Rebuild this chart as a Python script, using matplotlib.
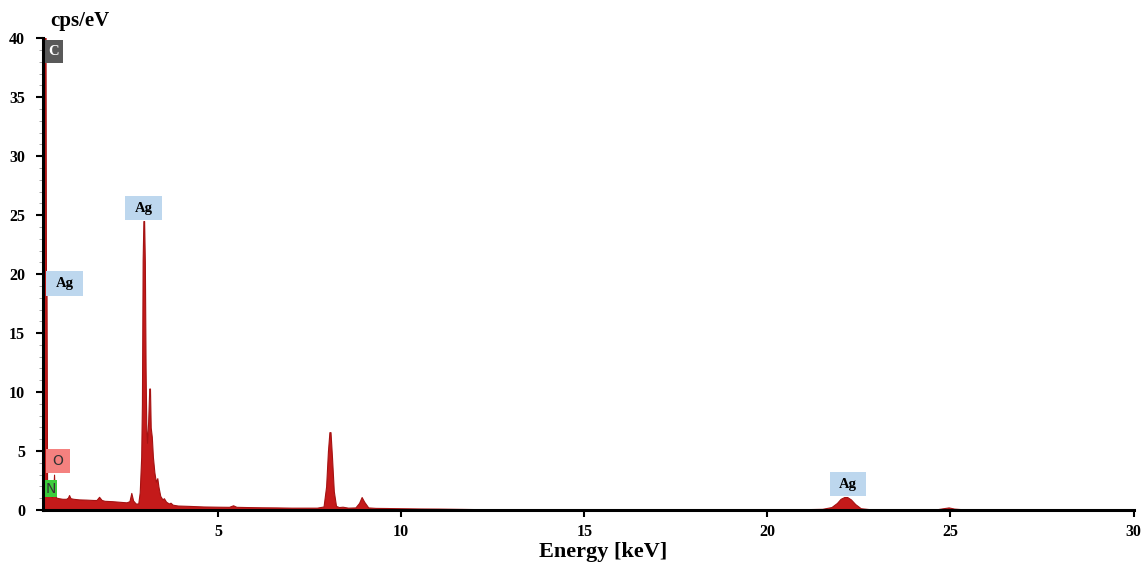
import numpy as np
import matplotlib
matplotlib.use("Agg")
import matplotlib.pyplot as plt
from matplotlib.patches import Rectangle

plt.rcParams['font.family'] = ['Liberation Serif', 'DejaVu Serif']

# EDS spectrum (energy in keV, counts in cps/eV)
energy_kev = [
    0.22, 0.285, 0.30, 0.315, 0.33, 0.36, 0.39, 0.42, 0.47, 0.50, 0.52, 0.54, 0.58,
    0.65, 0.75, 0.85, 0.90, 0.93, 0.97, 1.05, 1.2, 1.4, 1.6, 1.68, 1.75, 1.82,
    1.9, 2.1, 2.3, 2.5, 2.58, 2.63, 2.68, 2.75, 2.82, 2.86, 2.90, 2.92, 2.94,
    2.96, 2.98, 3.00, 3.02, 3.04, 3.06, 3.09, 3.12, 3.14, 3.16, 3.19, 3.22,
    3.26, 3.30, 3.34, 3.37, 3.42, 3.48, 3.52, 3.58, 3.66, 3.70, 3.76, 3.9,
    4.2, 4.6, 5.0, 5.3, 5.41, 5.5, 5.8, 6.2, 6.6, 7.0, 7.4, 7.7, 7.88, 7.95,
    8.0, 8.04, 8.07, 8.11, 8.16, 8.22, 8.3, 8.4, 8.55, 8.75, 8.85, 8.92, 8.99,
    9.1, 9.3, 9.6, 10, 10.5, 11, 11.5, 12, 13, 14, 15, 16, 17, 18, 19, 20,
    21, 21.5, 21.75, 21.9, 22.0, 22.1, 22.18, 22.28, 22.4, 22.55, 22.8, 23.2,
    24, 24.6, 24.8, 24.95, 25.1, 25.4, 26, 27, 28, 29, 30,
]
counts_cps = [
    45, 45, 18.6, 18.6, 1.8, 1.3, 1.4, 1.2, 1.1, 1.6, 3.0, 1.3, 1.05,
    1.0, 0.95, 0.95, 1.05, 1.27, 1.0, 0.95, 0.9, 0.88, 0.85, 0.85, 1.12, 0.85,
    0.78, 0.75, 0.7, 0.65, 0.75, 1.45, 0.8, 0.55, 0.55, 1.5, 4.5, 9.0, 21.2,
    24.5, 24.5, 21.0, 12, 6.8, 5.7, 7.5, 10.3, 10.3, 7.0, 6.2, 4.5,
    3.2, 2.4, 2.7, 2.0, 1.2, 0.9, 1.0, 0.7, 0.55, 0.62, 0.45, 0.38,
    0.35, 0.3, 0.28, 0.27, 0.4, 0.27, 0.25, 0.23, 0.22, 0.2, 0.2, 0.2, 0.3, 2.0,
    5.0, 6.6, 6.6, 4.5, 1.6, 0.35, 0.25, 0.28, 0.2, 0.22, 0.6, 1.1, 0.7,
    0.22, 0.18, 0.17, 0.15, 0.13, 0.12, 0.1, 0.08, 0.06, 0.05, 0.05, 0.05, 0.05, 0.06, 0.07, 0.07,
    0.07, 0.1, 0.25, 0.6, 0.95, 1.1, 1.1, 0.9, 0.5, 0.15, 0.07, 0.05,
    0.04, 0.05, 0.15, 0.22, 0.12, 0.05, 0.03, 0.02, 0.01, 0.0, 0.0,
]

# peak labels: text, energy of box centre, height of box centre, face, text colour, bold
label_text = ['C', 'Ag', 'Ag', 'O', 'N', 'Ag']
label_x = [0.51, 0.81, 2.97, 0.63, 0.43, 22.19]
label_y = [38.9, 19.2, 25.6, 4.15, 1.8, 2.2]
label_w = [0.52, 1.01, 1.01, 0.65, 0.35, 0.98]
label_h = [1.95, 2.1, 2.05, 2.0, 1.45, 2.0]
label_face = ['#595959', '#bdd7ee', '#bdd7ee', '#f4817f', '#3ccc3c', '#bdd7ee']
label_color = ['white', 'black', 'black', '#333333', '#333333', 'black']
label_bold = [True, True, True, False, False, True]

fig = plt.figure(figsize=(11.45, 5.62), dpi=100)
ax = fig.add_axes([0.0376, 0.0925, 0.9524, 0.8395])

ax.fill_between(energy_kev, counts_cps, 0, color='#c41a1a', lw=0.8,
                edgecolor='#a51212', zorder=2)

for t, x, y, w, h, fc, tc, b in zip(label_text, label_x, label_y, label_w,
                                    label_h, label_face, label_color, label_bold):
    ax.add_patch(Rectangle((x - w / 2, y - h / 2), w, h, facecolor=fc,
                           edgecolor='none', zorder=3, clip_on=False))
    if b:
        ax.text(x, y, t, ha='center', va='center', color=tc, fontsize=10.5,
                fontweight='bold', zorder=4)
    else:
        ax.text(x, y, t, ha='center', va='center', color=tc, fontsize=10,
                family='DejaVu Sans', zorder=4)

ax.set_xlim(0.22, 30)
ax.set_ylim(0, 40)
ax.set_xticks([5, 10, 15, 20, 25, 30])
ax.set_yticks(np.arange(0, 41, 5))
ax.set_yticks(np.arange(0, 41, 1), minor=True)

for s in ['top', 'right']:
    ax.spines[s].set_visible(False)
for s in ['left', 'bottom']:
    ax.spines[s].set_linewidth(2.2)
    ax.spines[s].set_zorder(5)

ax.tick_params(axis='both', which='major', direction='out', length=5, width=1.5,
               labelsize=11.5)
ax.tick_params(axis='y', which='minor', direction='out', length=3, width=0.6,
               color='#999999')
ax.tick_params(axis='x', pad=5)
ax.tick_params(axis='y', pad=8)
for lab in ax.get_xticklabels() + ax.get_yticklabels():
    lab.set_fontweight('bold')

fig.text(0.0437, 0.962, 'cps/eV', fontsize=15, fontweight='bold', ha='left',
         va='center')
fig.text(0.527, 0.017, 'Energy [keV]', fontsize=16, fontweight='bold',
         ha='center', va='center')

fig.savefig('out.png', dpi=100)
